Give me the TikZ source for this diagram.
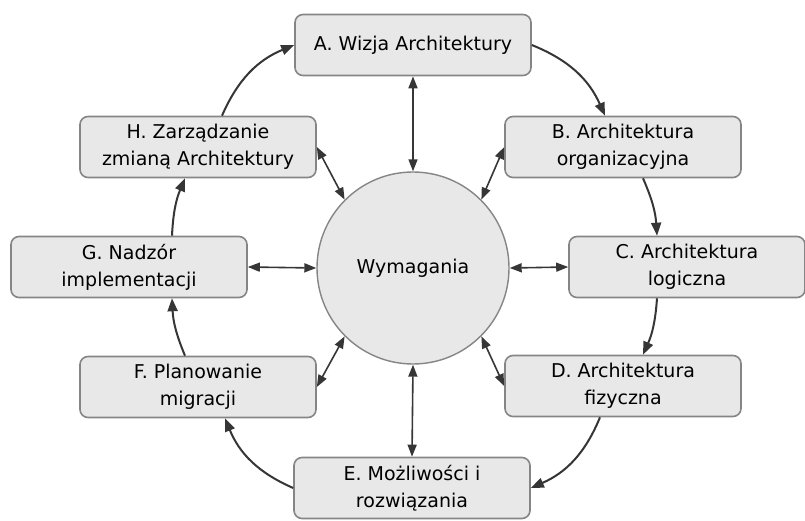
\documentclass[tikz,border=0pt]{standalone}
\usepackage{fontspec}
\setmainfont{DejaVu Sans}
\usetikzlibrary{arrows.meta}
\definecolor{stagefill}{HTML}{E8E8E8}
\definecolor{stageline}{HTML}{858585}
\definecolor{arrowgray}{HTML}{363636}
\begin{document}
\begin{tikzpicture}[
  x=1pt, y=1pt,
  stage/.style={draw=stageline, fill=stagefill, line width=1.6pt, rounded corners=8pt,
                align=center, minimum width=236pt, minimum height=61pt, inner sep=0pt,
                font=\fontsize{19}{27}\selectfont},
  hub/.style={circle, draw=stageline, fill=stagefill, line width=1.4pt,
              minimum size=192pt, inner sep=0pt, font=\fontsize{19}{27}\selectfont},
  flow/.style={draw=arrowgray, line width=2pt, -{Triangle[length=13pt,width=10pt]}},
  link/.style={draw=arrowgray, line width=1.6pt,
               {Triangle[length=12pt,width=9pt]}-{Triangle[length=12pt,width=9pt]}}
]
\useasboundingbox (0,0) rectangle (805,520);

\node[hub]   (req)  at (413,252) {Wymagania};
\node[stage] (visn) at (413,475) {A. Wizja Architektury};
\node[stage] (bus)  at (623,373) {B. Architektura\\organizacyjna};
\node[stage] (log)  at (687,253) {C. Architektura\\logiczna};
\node[stage] (phy)  at (623,134) {D. Architektura\\fizyczna};
\node[stage] (opp)  at (412,32)  {E. Możliwości i\\rozwiązania};
\node[stage] (mig)  at (198,133) {F. Planowanie\\migracji};
\node[stage] (gov)  at (129,253) {G. Nadzór\\implementacji};
\node[stage] (chg)  at (198,373) {H. Zarządzanie\\zmianą Architektury};

\draw[flow] (visn.east) to[bend left=22] ([xshift=-18pt]bus.north);
\draw[flow] ([xshift=20pt]bus.south) to[bend left=10] ([xshift=-30pt]log.north);
\draw[flow] ([xshift=-30pt]log.south) to[bend left=10] ([xshift=20pt]phy.north);
\draw[flow] ([xshift=-23pt]phy.south) to[bend left=22] (opp.east);
\draw[flow] (opp.west) to[bend left=22] ([xshift=27pt]mig.south);
\draw[flow] ([xshift=-13pt]mig.north) to[bend left=10] ([xshift=43pt]gov.south);
\draw[flow] ([xshift=43pt]gov.north) to[bend left=10] ([xshift=-13pt]chg.south);
\draw[flow] ([xshift=24pt]chg.north) to[bend left=22] (visn.west);

\draw[link] (visn.south) -- (req.north);
\draw[link] (bus.west)   -- (req.45);
\draw[link] (log.west)   -- (req.east);
\draw[link] (phy.west)   -- (req.-45);
\draw[link] (opp.north)  -- (req.south);
\draw[link] (mig.east)   -- (req.-135);
\draw[link] (gov.east)   -- (req.west);
\draw[link] (chg.east)   -- (req.135);
\end{tikzpicture}
\end{document}
